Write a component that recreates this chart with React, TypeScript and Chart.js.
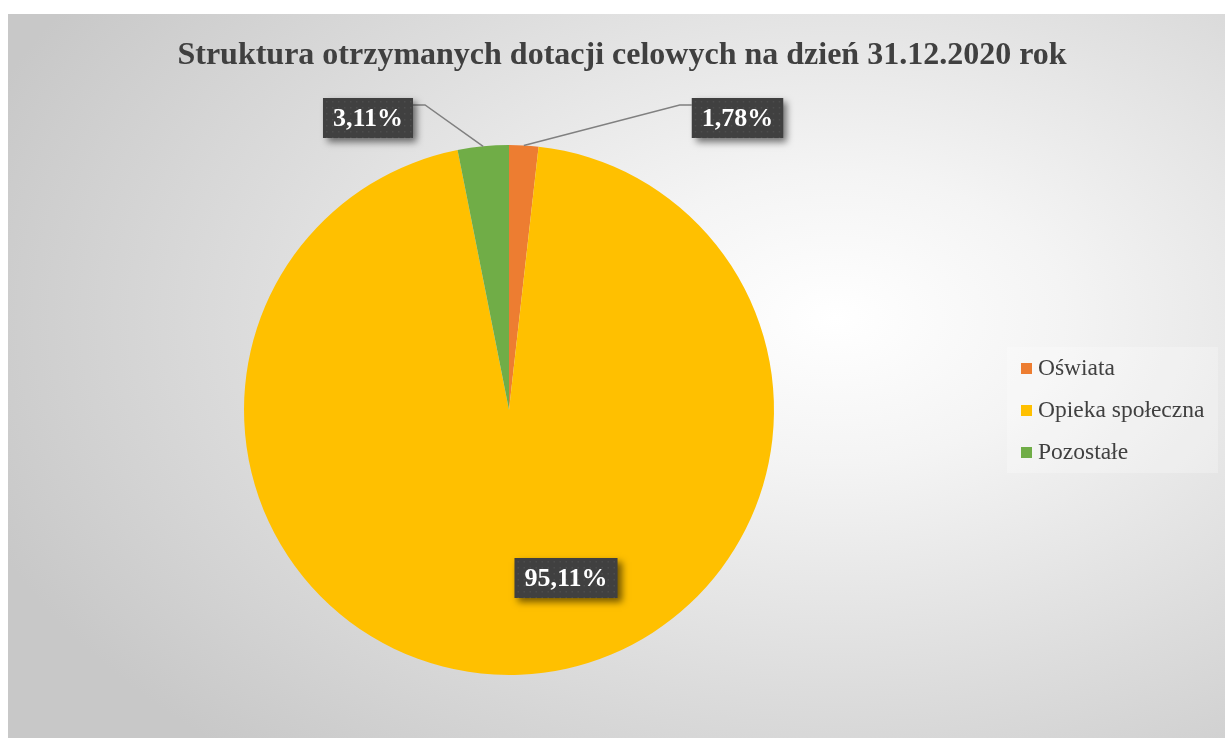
import React, { useEffect, useRef } from "react";
import { Chart, registerables } from "chart.js";

Chart.register(...registerables);

const TITLE = "Struktura otrzymanych dotacji celowych na dzień 31.12.2020 rok";
const categories = ["Oświata", "Opieka społeczna", "Pozostałe"];
const values = [1.78, 95.11, 3.11];
const valueLabels = ["1,78%", "95,11%", "3,11%"];
const colors = ["#ED7D31", "#FFC000", "#70AD47"];

const SERIF = "'Times New Roman', 'Liberation Serif', serif";

// label box centers relative to pie center, in units of radius
const labelOffsets = [
  { dx: 228.5 / 265, dy: -292 / 265, leader: "left" },
  { dx: 57 / 265, dy: 168 / 265, leader: "none" },
  { dx: -141 / 265, dy: -292 / 265, leader: "right" },
];

const decorPlugin = {
  id: "decor",
  afterDraw(chart: any) {
    const ctx = chart.ctx as CanvasRenderingContext2D;
    // Title
    ctx.save();
    ctx.font = `bold 32px ${SERIF}`;
    ctx.fillStyle = "#404040";
    ctx.textAlign = "center";
    ctx.textBaseline = "middle";
    ctx.fillText(TITLE, 614, 42);
    ctx.restore();

    // Data labels
    const meta = chart.getDatasetMeta(0);
    meta.data.forEach((arc: any, i: number) => {
      const { x, y, outerRadius, startAngle, endAngle } = arc.getProps(
        ["x", "y", "outerRadius", "startAngle", "endAngle"],
        true
      );
      const mid = (startAngle + endAngle) / 2;
      const off = labelOffsets[i];
      const cx = x + off.dx * outerRadius;
      const cy = y + off.dy * outerRadius;
      ctx.save();
      ctx.font = `bold 26px ${SERIF}`;
      const tw = ctx.measureText(valueLabels[i]).width;
      const bw = tw + 20;
      const bh = 40;
      const bx = cx - bw / 2;
      const by = cy - bh / 2;
      if (off.leader !== "none") {
        const ax = x + Math.cos(mid) * outerRadius;
        const ay = y + Math.sin(mid) * outerRadius;
        const sx = off.leader === "right" ? bx + bw : bx;
        const sy = by + 7;
        const kx = off.leader === "right" ? sx + 12 : sx - 12;
        ctx.strokeStyle = "#808080";
        ctx.lineWidth = 1.5;
        ctx.beginPath();
        ctx.moveTo(sx, sy);
        ctx.lineTo(kx, sy);
        ctx.lineTo(ax, ay);
        ctx.stroke();
      }
      ctx.shadowColor = "rgba(0,0,0,0.55)";
      ctx.shadowBlur = 7;
      ctx.shadowOffsetX = 4;
      ctx.shadowOffsetY = 4;
      ctx.fillStyle = "#404040";
      ctx.fillRect(bx, by, bw, bh);
      ctx.shadowColor = "transparent";
      ctx.fillStyle = "rgba(255,255,255,0.07)";
      for (let px = bx + 3; px < bx + bw; px += 6) {
        for (let py = by + 3; py < by + bh; py += 6) {
          ctx.fillRect(px, py, 1.5, 1.5);
        }
      }
      ctx.fillStyle = "#ffffff";
      ctx.textAlign = "center";
      ctx.textBaseline = "middle";
      ctx.fillText(valueLabels[i], cx, cy + 1);
      ctx.restore();
    });

    // Legend
    ctx.save();
    const lx = 999;
    const ly = 333;
    const lw = 211;
    const lh = 126;
    ctx.fillStyle = "rgba(255,255,255,0.25)";
    ctx.fillRect(lx, ly, lw, lh);
    ctx.font = `23.5px ${SERIF}`;
    ctx.textBaseline = "middle";
    ctx.textAlign = "left";
    categories.forEach((c, i) => {
      const iy = 355 + i * 42;
      ctx.fillStyle = colors[i];
      ctx.fillRect(1013, iy - 6, 11, 11);
      ctx.fillStyle = "#404040";
      ctx.fillText(c, 1030, iy);
    });
    ctx.restore();
  },
};

export default function App() {
  const ref = useRef<HTMLCanvasElement | null>(null);
  useEffect(() => {
    if (!ref.current) return;
    const chart = new Chart(ref.current, {
      type: "pie",
      data: {
        labels: categories,
        datasets: [
          {
            data: values,
            backgroundColor: colors,
            borderWidth: 0,
            hoverOffset: 0,
          },
        ],
      },
      options: {
        responsive: false,
        animation: false,
        layout: { padding: { left: 236, right: 451, top: 131, bottom: 63 } },
        plugins: {
          legend: { display: false },
          title: { display: false },
          tooltip: { enabled: false },
        },
      },
      plugins: [decorPlugin],
    });
    return () => chart.destroy();
  }, []);
  return (
    <div
      style={{
        position: "absolute",
        left: 8,
        top: 14,
        width: 1217,
        height: 724,
        background:
          "radial-gradient(ellipse 75% 80% at 68% 42%, #ffffff 0%, #f4f4f4 25%, #dcdcdc 65%, #c8c8c8 100%)",
      }}
    >
      <canvas ref={ref} width={1217} height={724} style={{ display: "block" }} />
    </div>
  );
}
